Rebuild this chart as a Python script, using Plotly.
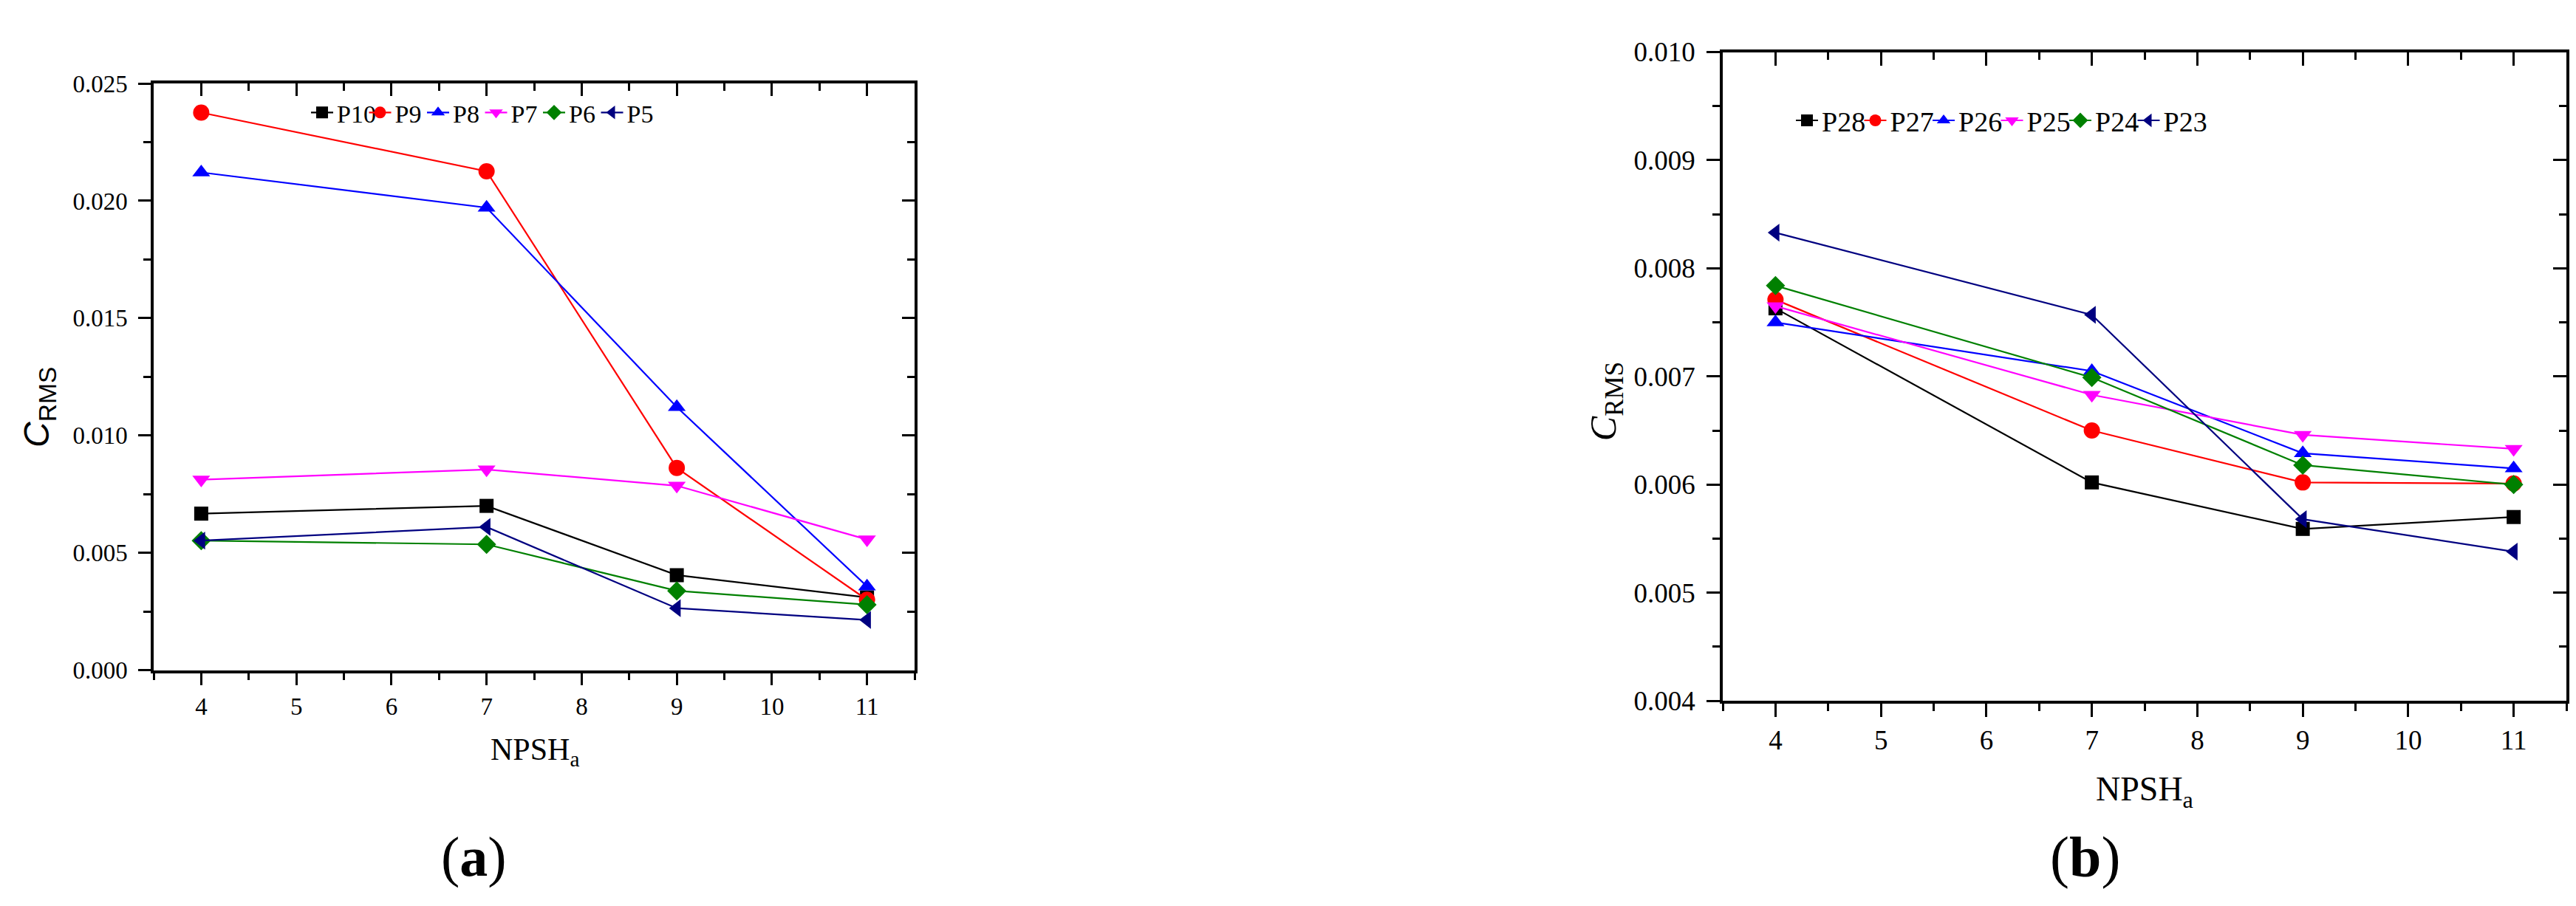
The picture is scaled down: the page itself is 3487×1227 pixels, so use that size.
import plotly.graph_objects as go

W, H = 3487, 1227

npsh = [4, 7, 9, 11]

# Panel (a)
names_a = ["P10", "P9", "P8", "P7", "P6", "P5"]
p10 = [0.00667, 0.00700, 0.00405, 0.00310]
p9 = [0.02376, 0.02126, 0.00862, 0.00300]
p8 = [0.02121, 0.01971, 0.01121, 0.00357]
p7 = [0.00812, 0.00855, 0.00786, 0.00557]
p6 = [0.00552, 0.00536, 0.00338, 0.00279]
p5 = [0.00552, 0.00610, 0.00264, 0.00214]
series_a = [p10, p9, p8, p7, p6, p5]

# Panel (b)
names_b = ["P28", "P27", "P26", "P25", "P24", "P23"]
p28 = [0.00763, 0.00602, 0.00559, 0.00570]
p27 = [0.00771, 0.00650, 0.00602, 0.00601]
p26 = [0.00750, 0.00705, 0.00629, 0.00615]
p25 = [0.00765, 0.00683, 0.00646, 0.00633]
p24 = [0.00784, 0.00699, 0.00618, 0.00600]
p23 = [0.00833, 0.00757, 0.00568, 0.00538]
series_b = [p28, p27, p26, p25, p24, p23]

colors = ["#000000", "#FF0000", "#0000FF", "#FF00FF", "#008000", "#000080"]
symbols = ["square", "circle", "triangle-up", "triangle-down", "diamond", "triangle-left"]
sizes = [19, 22, 21, 21, 20, 21]

x_ticks = [4, 5, 6, 7, 8, 9, 10, 11]
FONT = "Liberation Serif"

fig = go.Figure()

n = len(names_a)
for i, (name, ys, c, s, sz) in enumerate(zip(names_a, series_a, colors, symbols, sizes)):
    fig.add_trace(go.Scatter(x=npsh, y=ys, name=name, mode="lines+markers",
                             line=dict(color=c, width=2.2),
                             marker=dict(symbol=s, size=sz, color=c),
                             legendwidth=(70 if i == n - 1 else None),
                             xaxis="x", yaxis="y", legend="legend"))
for i, (name, ys, c, s, sz) in enumerate(zip(names_b, series_b, colors, symbols, sizes)):
    fig.add_trace(go.Scatter(x=npsh, y=ys, name=name, mode="lines+markers",
                             line=dict(color=c, width=2.2),
                             marker=dict(symbol=s, size=sz, color=c),
                             legendwidth=(80 if i == n - 1 else None),
                             xaxis="x2", yaxis="y2", legend="legend2"))


def px_x(p):
    return p / W


def px_y(p):
    return 1 - p / H


def xax(domain, anchor, fs, tl):
    return dict(domain=domain, anchor=anchor, range=[3.5, 11.5], tickvals=x_ticks,
                ticks="outside", ticklen=tl, tickwidth=3, tickcolor="black",
                showline=True, linewidth=3.5, linecolor="black", mirror=True,
                showgrid=False, zeroline=False,
                tickfont=dict(family=FONT, size=fs, color="black"),
                minor=dict(dtick=0.5, tick0=3.5, ticks="outside", ticklen=10, tickwidth=3, tickcolor="black"))


def yax(domain, anchor, rng, dt, fs, tl):
    return dict(domain=domain, anchor=anchor, range=rng, dtick=dt, tick0=0, tickformat=".3f",
                ticks="outside", ticklen=tl, tickwidth=3, tickcolor="black",
                showline=True, linewidth=3.5, linecolor="black", mirror=True,
                showgrid=False, zeroline=False, ticklabelstandoff=8,
                tickfont=dict(family=FONT, size=fs, color="black"),
                minor=dict(dtick=dt / 2, ticks="outside", ticklen=10, tickwidth=3, tickcolor="black"))


def mirror_x(over, anchor, tl):
    return dict(overlaying=over, anchor=anchor, side="top", range=[3.5, 11.5], tickvals=x_ticks,
                ticks="inside", ticklen=tl, tickwidth=3, tickcolor="black", showticklabels=False,
                showgrid=False, zeroline=False, showline=False,
                minor=dict(dtick=0.5, tick0=3.5, ticks="inside", ticklen=10, tickwidth=3, tickcolor="black"))


def mirror_y(over, anchor, rng, dt, tl):
    return dict(overlaying=over, anchor=anchor, side="right", range=rng, dtick=dt, tick0=0,
                ticks="inside", ticklen=tl, tickwidth=3, tickcolor="black", showticklabels=False,
                showgrid=False, zeroline=False, showline=False,
                minor=dict(dtick=dt / 2, ticks="inside", ticklen=10, tickwidth=3, tickcolor="black"))


xd1 = [px_x(200), px_x(1230)]
yd1 = [px_y(910), px_y(88)]
xd2 = [px_x(2324), px_x(3466)]
yd2 = [px_y(953), px_y(44)]

fig.update_layout(
    width=W, height=H, margin=dict(l=0, r=0, t=0, b=0),
    paper_bgcolor="white", plot_bgcolor="white",
    font=dict(family=FONT, color="black"),
    xaxis=xax(xd1, "y", 33, 17),
    yaxis=yax(yd1, "x", [0, 0.025], 0.005, 33, 17),
    xaxis2=xax(xd2, "y2", 37, 18),
    yaxis2=yax(yd2, "x2", [0.004, 0.010], 0.001, 37, 18),
    xaxis3=mirror_x("x", "y", 17),
    yaxis3=mirror_y("y", "x", [0, 0.025], 0.005, 17),
    xaxis4=mirror_x("x2", "y2", 18),
    yaxis4=mirror_y("y2", "x2", [0.004, 0.010], 0.001, 18),
    legend=dict(orientation="h", x=px_x(408), xanchor="left", y=px_y(129), yanchor="middle",
                entrywidth=33.5, entrywidthmode="pixels", bgcolor="rgba(0,0,0,0)",
                font=dict(family=FONT, size=34, color="black"), tracegroupgap=0),
    legend2=dict(orientation="h", x=px_x(2418), xanchor="left", y=px_y(140), yanchor="middle",
                 entrywidth=47.5, entrywidthmode="pixels", bgcolor="rgba(0,0,0,0)",
                 font=dict(family=FONT, size=38, color="black"), tracegroupgap=0),
    showlegend=True,
)

# invisible traces so the mirrored tick axes are drawn
fig.add_trace(go.Scatter(x=[None], y=[None], xaxis="x3", yaxis="y3", showlegend=False, hoverinfo="skip"))
fig.add_trace(go.Scatter(x=[None], y=[None], xaxis="x4", yaxis="y4", showlegend=False, hoverinfo="skip"))

annotations = [
    dict(text="NPSH<sub>a</sub>", x=px_x(716), y=px_y(1024), xref="paper", yref="paper",
         xanchor="center", yanchor="middle", showarrow=False,
         font=dict(family=FONT, size=42, color="black")),
    dict(text="NPSH<sub>a</sub>", x=px_x(2895), y=px_y(1080), xref="paper", yref="paper",
         xanchor="center", yanchor="middle", showarrow=False,
         font=dict(family=FONT, size=46, color="black")),
    dict(text="<i>C</i><sub>RMS</sub>", x=px_x(45), y=px_y(542), xref="paper", yref="paper",
         xanchor="center", yanchor="middle", showarrow=False, textangle=-90,
         font=dict(family="Liberation Sans", size=48, color="black")),
    dict(text="<i>C</i><sub>RMS</sub>", x=px_x(2166), y=px_y(534), xref="paper", yref="paper",
         xanchor="center", yanchor="middle", showarrow=False, textangle=-90,
         font=dict(family=FONT, size=50, color="black")),
    dict(text="(<b>a</b>)", x=px_x(633), y=px_y(1172), xref="paper", yref="paper",
         xanchor="center", yanchor="middle", showarrow=False,
         font=dict(family=FONT, size=76, color="black")),
    dict(text="(<b>b</b>)", x=px_x(2814), y=px_y(1172), xref="paper", yref="paper",
         xanchor="center", yanchor="middle", showarrow=False,
         font=dict(family=FONT, size=78, color="black")),
]
fig.update_layout(annotations=annotations)

fig.write_html("out.html")
